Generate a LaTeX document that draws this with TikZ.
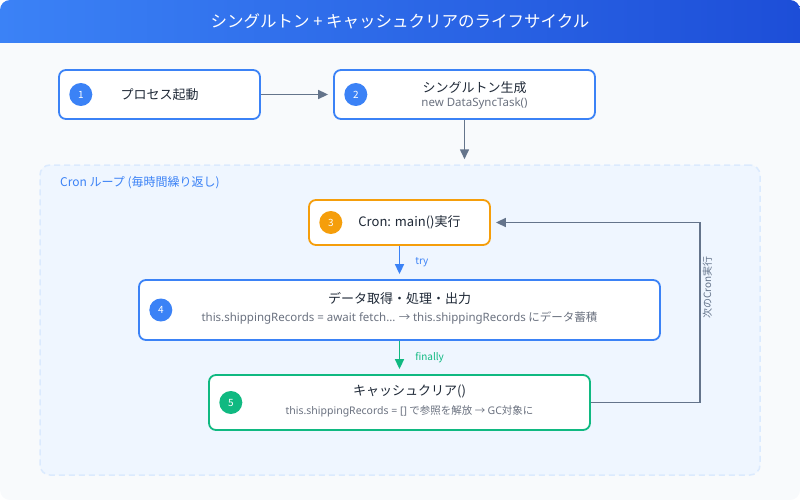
\documentclass[tikz,border=0pt]{standalone}
\usepackage{fontspec}
\setmainfont{Noto Sans CJK JP}
\newfontfamily\lat{Noto Sans}
\usetikzlibrary{arrows.meta,positioning}
\definecolor{hdrL}{HTML}{3B82F6}
\definecolor{hdrR}{HTML}{1D4ED8}
\definecolor{pagebg}{HTML}{F8FAFC}
\definecolor{loopbg}{HTML}{EFF6FF}
\definecolor{loopline}{HTML}{DBEAFE}
\definecolor{cblue}{HTML}{3B82F6}
\definecolor{corange}{HTML}{F59E0B}
\definecolor{cgreen}{HTML}{10B981}
\definecolor{cgray}{HTML}{64748B}
\definecolor{ink}{HTML}{1F2937}
\definecolor{muted}{HTML}{6B7280}

\begin{document}
\begin{tikzpicture}[x=1pt,y=-1pt,
  stepbox/.style={draw=#1,fill=white,line width=1.8pt,rounded corners=7pt,inner sep=0pt},
  badge/.style={circle,fill=#1,minimum size=23pt,inner sep=0pt,text=white,font=\fontsize{10}{12}\selectfont},
  head/.style={text=ink,inner sep=0pt,font=\fontsize{13}{16}\selectfont},
  sub/.style={text=muted,inner sep=0pt,font=\fontsize{11.5}{13}\selectfont},
  flow/.style={-{Triangle[length=10pt,width=9pt]},line width=1.6pt,draw=#1,shorten >=5pt},
  tag/.style={text=#1,inner sep=0pt,font=\fontsize{10}{12}\selectfont}
]
\useasboundingbox (0,0) rectangle (800,500);
\fill[pagebg,rounded corners=10pt] (0,0) rectangle (800,500);
\shade[left color=hdrL,right color=hdrR,rounded corners=10pt] (0,0) rectangle (800,60);
\fill[pagebg] (0,43) rectangle (800,62);
\node[text=white,font=\fontsize{16.5}{20}\selectfont] (title) at (400,21.5) {シングルトン + キャッシュクリアのライフサイクル};

\node[draw=loopline,line width=1.5pt,dash pattern=on 6pt off 4pt,fill=loopbg,rounded corners=10pt,
  minimum width=720pt,minimum height=310pt] (loop) at (400,320) {};
\node[tag=cblue,anchor=west,font=\fontsize{12}{14}\selectfont] (looplbl) at (60,183) {Cron ループ (毎時間繰り返し)};

\node[stepbox=cblue,minimum width=201pt,minimum height=49pt] (s1) at (159.5,94.5) {};
\node[badge=cblue,right=11pt of s1.west] (b1) {1};
\node[head] (t1) at (s1) {プロセス起動};

\node[stepbox=cblue,minimum width=261pt,minimum height=49pt] (s2) at (464.5,94.5) {};
\node[badge=cblue,right=11pt of s2.west] (b2) {2};
\node[head,xshift=10pt,yshift=6.5pt] (t2) at (s2) {シングルトン生成};
\node[sub,xshift=10pt,yshift=-9.5pt] (d2) at (s2) {\lat new DataSyncTask()};

\node[stepbox=corange,minimum width=181pt,minimum height=45pt] (s3) at (399.5,222.5) {};
\node[badge=corange,right=11pt of s3.west] (b3) {3};
\node[head,xshift=10pt] (t3) at (s3) {Cron: main()実行};

\node[stepbox=cblue,minimum width=521pt,minimum height=60pt] (s4) at (399.5,310) {};
\node[badge=cblue,right=11pt of s4.west] (b4) {4};
\node[head,yshift=11pt] (t4) at (s4) {データ取得・処理・出力};
\node[sub,yshift=-8pt] (d4) at (s4) {{\lat this.shippingRecords = await fetch...} → {\lat this.shippingRecords} にデータ蓄積};

\node[stepbox=cgreen,minimum width=381pt,minimum height=55pt] (s5) at (399.5,402.5) {};
\node[badge=cgreen,right=11pt of s5.west] (b5) {5};
\node[head,xshift=10pt,yshift=11.5pt] (t5) at (s5) {キャッシュクリア()};
\node[sub,xshift=10pt,yshift=-8.5pt,font=\fontsize{10.5}{12}\selectfont] (d5) at (s5) {{\lat this.shippingRecords = []} で参照を解放 → {\lat GC}対象に};

\draw[flow=cgray] (s1) -- (s2);
\draw[flow=cgray] (s2.south) -- (s2.south |- loop.north);
\draw[flow=cblue] (s3) -- node[tag=cblue,right=15pt] {try} (s4);
\draw[flow=cgreen] (s4) -- node[tag=cgreen,right=15pt] {finally} (s5);
\coordinate (turn) at (700,402.5);
\draw[flow=cgray] (s5.east) -- (turn) |- (s3.east)
  node[tag=cgray,pos=0.32,rotate=90,anchor=north,inner sep=2pt] {次のCron実行};
\end{tikzpicture}
\end{document}
